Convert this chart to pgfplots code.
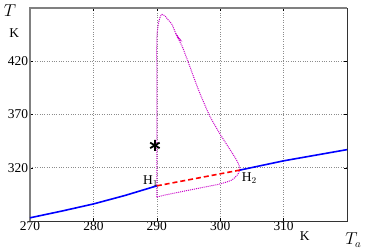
\documentclass[border=0pt]{standalone}
\usepackage{pgfplots}
\pgfplotsset{compat=1.18}
\usepackage{fontspec}
\setmainfont{Liberation Serif}
\usetikzlibrary{calc}
\definecolor{mag}{RGB}{200,0,200}
\begin{document}
\begin{tikzpicture}
\begin{axis}[name=ax,
  scale only axis, width=317bp, height=213bp,
  xmin=270, xmax=320, ymin=270, ymax=470,
  xtick={270,280,290,300,310}, ytick={320,370,420},
  grid=major, major grid style={gray!90, dotted, line width=0.6pt},
  major tick length=3bp, tick style={black, line width=0.5pt},
  axis line style={draw=none},
  tick label style={font=\fontsize{13.5}{15}\selectfont},
  /pgf/number format/assume math mode=true,
  xticklabel style={yshift=2.5bp},
  yticklabel style={xshift=1.5bp},
  clip=false,
]
\draw[gray, line width=1.3pt] (rel axis cs:0,0) -- (rel axis cs:0,1) -- (rel axis cs:1,1);
\draw[black!80, line width=0.6pt] (rel axis cs:0,0) -- (rel axis cs:1,0) -- (rel axis cs:1,1);
\addplot[mag, densely dotted, line width=1pt, smooth, tension=0.4] coordinates {
(290,292.5) (290,320) (290,360) (290,400) (290,439.6) (290.2,453.7) (290.5,461) (290.8,464) (291.3,462.5) (291.7,459.5) (292.4,454.6) (293.1,444.5) (294,434) (294.9,420) (296.6,392.8) (298.3,369.3) (299.8,353.4) (300.9,343) (301.8,334.7) (302.6,327) (303.1,319.7) (302.8,314) (301.8,308.4) (299.9,304.7) (296.8,301) (293.6,297.2) (291.3,294.4) (290,292.5)
};
\addplot[mag, densely dotted, line width=1pt] coordinates {(293.0,446) (293.6,441) (293.2,443) (293.8,439)};
\addplot[blue, line width=1.6pt] coordinates {
(270,273) (275,279.3) (280,286) (285,294) (290,303)
};
\addplot[blue, line width=1.6pt] coordinates {
(303.1,317.8) (310,326.5) (320,337)
};
\addplot[red, dashed, line width=1.6pt, dash pattern=on 5pt off 3pt] coordinates {
(290,303) (303.1,317.8)
};
\addplot[black, only marks, mark=asterisk, mark size=5.5pt, line width=1.8pt] coordinates {(289.7,341)};
\node[font=\fontsize{13.5}{15}\selectfont] at (axis cs:289.0,307.5) {H$_1$};
\node[font=\fontsize{13.5}{15}\selectfont] at (axis cs:304.6,310.3) {H$_2$};
\node[font=\fontsize{16}{18}\selectfont] at (rel axis cs:-0.063,0.99) {$T$};
\node[font=\fontsize{13.5}{15}\selectfont] at (rel axis cs:-0.05,0.88) {K};
\node[font=\fontsize{13.5}{15}\selectfont] at (rel axis cs:0.867,-0.07) {K};
\node[font=\fontsize{16}{18}\selectfont] at (rel axis cs:1.02,-0.09) {$T_a$};
\end{axis}
\pgfresetboundingbox
\path[use as bounding box] ($(ax.south west)+(-30bp,-28bp)$) rectangle ($(ax.north east)+(18bp,8bp)$);
\end{tikzpicture}
\end{document}
